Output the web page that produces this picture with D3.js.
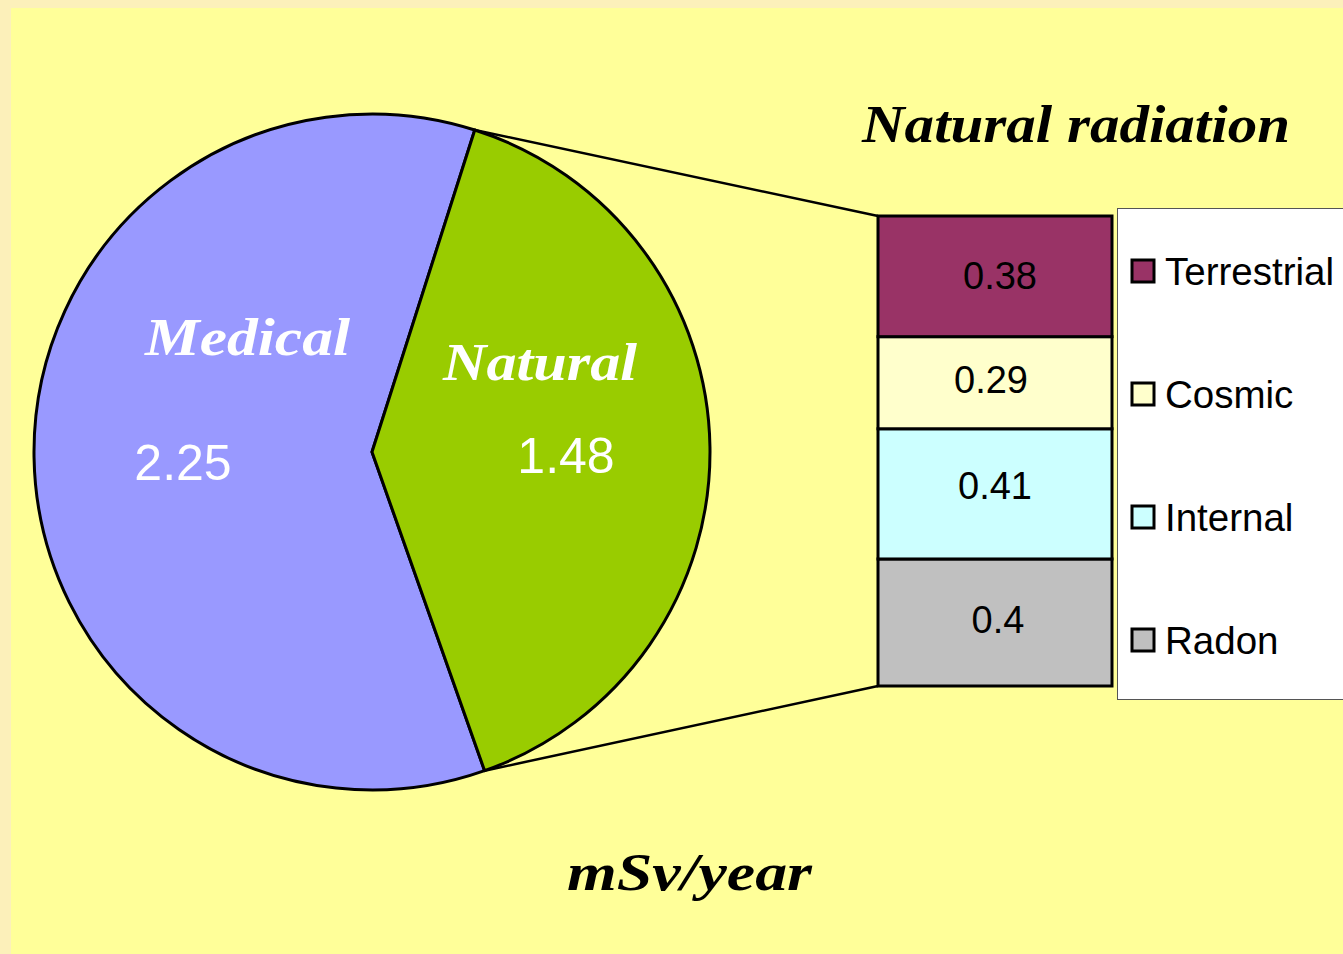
<!DOCTYPE html>
<html>
<head>
<meta charset="utf-8">
<script src="https://cdn.jsdelivr.net/npm/d3@7"></script>
<style>
  html, body { margin: 0; padding: 0; background: #FCF0BA; }
  svg { display: block; }
</style>
</head>
<body>
<svg id="chart" width="1343" height="954"></svg>
<script>
// ---- data ----
const pieCategories = ["Medical", "Natural"];
const pieValues = [2.25, 1.48];
const pieColors = ["#9999FF", "#99CC00"];

const barCategories = ["Terrestrial", "Cosmic", "Internal", "Radon"];
const barValues = [0.38, 0.29, 0.41, 0.4];
const barColors = ["#993366", "#FFFFCC", "#CCFFFF", "#C0C0C0"];

const titleText = "Natural radiation";
const unitText = "mSv/year";

// ---- drawing ----
const svg = d3.select("#chart");
svg.append("rect").attr("x", 0).attr("y", 0).attr("width", 1343).attr("height", 954).attr("fill", "#FCF0BA");
svg.append("rect").attr("x", 11).attr("y", 8).attr("width", 1332).attr("height", 946).attr("fill", "#FFFF99");

const cx = 372, cy = 452, R = 338;
const medAngle = pieValues[0] / d3.sum(pieValues) * 2 * Math.PI;
const natStart = 17.7 * Math.PI / 180;
const pie = d3.pie().sort(null).value(d => d)
  .startAngle(natStart - medAngle).endAngle(natStart - medAngle + 2 * Math.PI);
const arcs = pie(pieValues);
const arc = d3.arc().innerRadius(0).outerRadius(R);

const pg = svg.append("g").attr("transform", `translate(${cx},${cy})`);
pg.selectAll("path").data(arcs).join("path")
  .attr("d", arc)
  .attr("fill", (d, i) => pieColors[i])
  .attr("stroke", "#000").attr("stroke-width", 3).attr("stroke-linejoin", "round");

// pie labels
const serif = "'Liberation Serif', 'Times New Roman', serif";
const sans = "'Liberation Sans', Arial, sans-serif";
const catLabelPos = [[145, 355, 205], [443, 380, 194]];
const valLabelPos = [[183, 480], [566, 473]];
pieCategories.forEach((c, i) => {
  pg.append("text")
    .attr("x", catLabelPos[i][0] - cx).attr("y", catLabelPos[i][1] - cy)
    .attr("textLength", catLabelPos[i][2]).attr("lengthAdjust", "spacingAndGlyphs")
    .attr("font-family", serif).attr("font-style", "italic").attr("font-weight", "bold")
    .attr("font-size", 52).attr("fill", "#fff").text(c);
  pg.append("text")
    .attr("x", valLabelPos[i][0] - cx).attr("y", valLabelPos[i][1] - cy)
    .attr("text-anchor", "middle")
    .attr("font-family", sans).attr("font-size", 50).attr("fill", "#fff")
    .text(pieValues[i]);
});

// stacked bar
const barX = 878, barW = 234;
const y = d3.scaleLinear().domain([0, d3.sum(barValues)]).range([686, 216]);
let cum = 0;
const segs = barCategories.map((c, i) => ({c, v: barValues[i], color: barColors[i], i})).reverse().map(s => {
  const o = {...s, y0: cum, y1: cum + s.v};
  cum += s.v;
  return o;
});

// connector lines from natural slice edges to bar
const natArc = arcs[1];
const pt = a => [cx + R * Math.sin(a), cy - R * Math.cos(a)];
const p1 = pt(natArc.startAngle), p2 = pt(natArc.endAngle);
svg.append("line").attr("x1", p1[0]).attr("y1", p1[1]).attr("x2", barX).attr("y2", y(d3.sum(barValues)))
  .attr("stroke", "#000").attr("stroke-width", 2.5);
svg.append("line").attr("x1", p2[0]).attr("y1", p2[1]).attr("x2", barX).attr("y2", y(0))
  .attr("stroke", "#000").attr("stroke-width", 2.5);

const bg = svg.append("g");
bg.selectAll("rect").data(segs).join("rect")
  .attr("x", barX).attr("width", barW)
  .attr("y", d => y(d.y1)).attr("height", d => y(d.y0) - y(d.y1))
  .attr("fill", d => d.color).attr("stroke", "#000").attr("stroke-width", 3);
const labelDx = [5, -4, 0, 3];
const labelDy = [13, 10, 5, 11];
bg.selectAll("text").data(segs).join("text")
  .attr("x", d => barX + barW / 2 + labelDx[d.i])
  .attr("y", d => (y(d.y0) + y(d.y1)) / 2 + labelDy[d.i])
  .attr("text-anchor", "middle")
  .attr("font-family", sans).attr("font-size", 38).attr("fill", "#000")
  .text(d => d.v);

// legend
svg.append("rect").attr("x", 1117.5).attr("y", 208.5).attr("width", 1343).attr("height", 491)
  .attr("fill", "#fff").attr("stroke", "#555").attr("stroke-width", 1);
const lg = svg.append("g");
barCategories.forEach((c, i) => {
  const ly = 271 + i * 123;
  lg.append("rect").attr("x", 1132).attr("y", ly - 11).attr("width", 22).attr("height", 22)
    .attr("fill", barColors[i]).attr("stroke", "#000").attr("stroke-width", 3);
  lg.append("text").attr("x", 1165).attr("y", ly + 14)
    .attr("font-family", sans).attr("font-size", 38.5).attr("fill", "#000").text(c);
});

// title & unit
svg.append("text").attr("x", 862).attr("y", 142)
  .attr("textLength", 428).attr("lengthAdjust", "spacingAndGlyphs")
  .attr("font-family", serif).attr("font-style", "italic").attr("font-weight", "bold")
  .attr("font-size", 52).attr("fill", "#000").text(titleText);
svg.append("text").attr("x", 567).attr("y", 890)
  .attr("textLength", 245).attr("lengthAdjust", "spacingAndGlyphs")
  .attr("font-family", serif).attr("font-style", "italic").attr("font-weight", "bold")
  .attr("font-size", 52).attr("fill", "#000").text(unitText);
</script>
</body>
</html>
